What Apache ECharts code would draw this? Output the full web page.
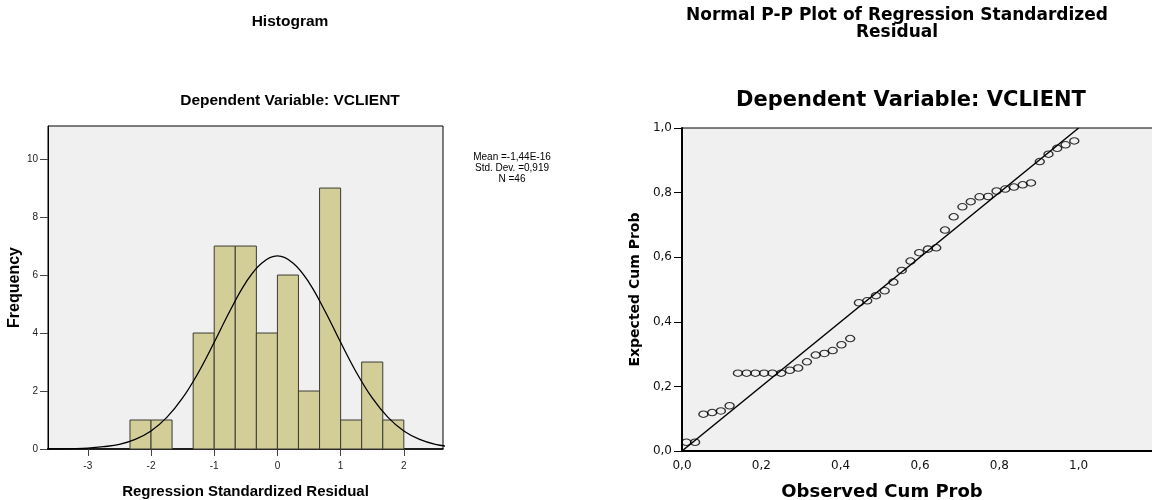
<!DOCTYPE html>
<html>
<head>
<meta charset="utf-8">
<script src="https://cdn.jsdelivr.net/npm/echarts@6/dist/echarts.min.js"></script>
<style>
  html, body { margin: 0; padding: 0; background: #fff; }
  #chart { width: 1152px; height: 500px; }
</style>
</head>
<body>
<div id="chart"></div>
<script>
// histogram of regression standardized residuals
const binLow = [-2.333, -2, -1.667, -1.333, -1, -0.667, -0.333, 0, 0.333, 0.667, 1, 1.333, 1.667]
const binHigh = [-2, -1.667, -1.333, -1, -0.667, -0.333, 0, 0.333, 0.667, 1, 1.333, 1.667, 2]
const binCount = [1, 1, 0, 4, 7, 7, 4, 6, 2, 9, 1, 3, 1]

// normal curve, heights
const curveX = [-3.75, -3.5, -3.25, -3, -2.75, -2.5, -2.25, -2, -1.75, -1.5, -1.25, -1, -0.75, -0.5, -0.25,
  0, 0.25, 0.5, 0.75, 1, 1.25, 1.5, 1.75, 2, 2.25, 2.5, 2.75]
const curveY = [0.00, 0.00, 0.01, 0.03, 0.08, 0.16, 0.33, 0.62, 1.09, 1.76, 2.64, 3.68, 4.77, 5.74, 6.41,
  6.66, 6.41, 5.74, 4.77, 3.68, 2.64, 1.76, 1.09, 0.62, 0.33, 0.16, 0.08]

const histXTicks = [-3, -2, -1, 0, 1, 2]
const histYTicks = [0, 2, 4, 6, 8, 10]
const statLines = ['Mean =-1,44E-16', 'Std. Dev. =0,919', 'N =46']

// normal P-P plot
const ppObserved = [0.011, 0.033, 0.054, 0.076, 0.098, 0.120, 0.141, 0.163, 0.185, 0.207,
  0.228, 0.250, 0.272, 0.293, 0.315, 0.337, 0.359, 0.380, 0.402, 0.424,
  0.446, 0.467, 0.489, 0.511, 0.533, 0.554, 0.576, 0.598, 0.620, 0.641,
  0.663, 0.685, 0.707, 0.728, 0.750, 0.772, 0.793, 0.815, 0.837, 0.859,
  0.880, 0.902, 0.924, 0.946, 0.967, 0.989]
const ppExpected = [0.027, 0.027, 0.114, 0.119, 0.124, 0.140, 0.241, 0.241, 0.241, 0.241,
  0.241, 0.241, 0.250, 0.257, 0.276, 0.297, 0.302, 0.311, 0.329, 0.348,
  0.459, 0.465, 0.481, 0.496, 0.523, 0.559, 0.588, 0.614, 0.625, 0.629,
  0.684, 0.725, 0.756, 0.772, 0.787, 0.788, 0.805, 0.811, 0.817, 0.824,
  0.830, 0.896, 0.919, 0.937, 0.948, 0.960]
const ppTicks = [0, 0.2, 0.4, 0.6, 0.8, 1.0]
const diagonal = [[0, 0], [1, 1]]

const leftFont = 'Liberation Sans, Arial, sans-serif'
const rightFont = 'DejaVu Sans, sans-serif'
const commaFmt = v => v.toFixed(1).replace('.', ',')

const chart = echarts.init(document.getElementById('chart'))

const option = {
  animation: false,
  title: [
    {
      text: 'Histogram', left: 290, top: 14, textAlign: 'center', padding: 0,
      textStyle: { fontFamily: leftFont, fontSize: 15.5, fontWeight: 'bold', color: '#000' }
    },
    {
      text: 'Dependent Variable: VCLIENT', left: 290, top: 93, textAlign: 'center', padding: 0,
      textStyle: { fontFamily: leftFont, fontSize: 15.5, fontWeight: 'bold', color: '#000' }
    },
    {
      text: statLines.join('\n'), left: 512, top: 152, textAlign: 'center', padding: 0,
      textStyle: { fontFamily: leftFont, fontSize: 10, lineHeight: 11, fontWeight: 'normal', color: '#000' }
    },
    {
      text: 'Normal P-P Plot of Regression Standardized\nResidual', left: 897, top: 7, textAlign: 'center', padding: 0,
      textStyle: { fontFamily: rightFont, fontSize: 17, lineHeight: 17, fontWeight: 'bold', color: '#000' }
    },
    {
      text: 'Dependent Variable: VCLIENT', left: 911, top: 90, textAlign: 'center', padding: 0,
      textStyle: { fontFamily: rightFont, fontSize: 21, fontWeight: 'bold', color: '#000' }
    }
  ],
  grid: [
    {
      left: 48, top: 126, width: 395, height: 323, outerBoundsMode: 'none',
      show: true, backgroundColor: '#f0f0f0', borderColor: '#000', borderWidth: 1
    },
    {
      left: 682, top: 128, width: 472, height: 323, outerBoundsMode: 'none',
      show: true, backgroundColor: '#f0f0f0', borderColor: '#000', borderWidth: 1
    }
  ],
  xAxis: [
    {
      gridIndex: 0, type: 'value', min: -3.63, max: 2.62,
      axisLine: { onZero: false, lineStyle: { color: '#000', width: 1.5 } },
      axisTick: { length: 7, customValues: histXTicks, lineStyle: { color: '#444' } },
      axisLabel: { customValues: histXTicks, fontFamily: leftFont, fontSize: 10, color: '#222', margin: 12 },
      splitLine: { show: false },
      name: 'Regression Standardized Residual', nameLocation: 'middle', nameGap: 35,
      nameTextStyle: { fontFamily: leftFont, fontSize: 15, fontWeight: 'bold', color: '#000' }
    },
    {
      gridIndex: 1, type: 'value', min: 0, max: 1.19,
      axisLine: { onZero: false, lineStyle: { color: '#000', width: 2 } },
      axisTick: { show: false },
      axisLabel: { customValues: ppTicks, formatter: commaFmt, fontFamily: rightFont, fontSize: 12, color: '#111', margin: 9 },
      splitLine: { show: false },
      name: 'Observed Cum Prob', nameLocation: 'middle', nameGap: 32,
      nameTextStyle: { fontFamily: rightFont, fontSize: 18, fontWeight: 'bold', color: '#000', padding: [0, 72, 0, 0] }
    }
  ],
  yAxis: [
    {
      gridIndex: 0, type: 'value', min: 0, max: 11.14,
      axisLine: { show: true, onZero: false, lineStyle: { color: '#000', width: 1 } },
      axisTick: { show: true, length: 8, customValues: histYTicks, lineStyle: { color: '#444' } },
      axisLabel: { customValues: histYTicks, fontFamily: leftFont, fontSize: 10, color: '#222', margin: 10 },
      splitLine: { show: false },
      name: 'Frequency', nameLocation: 'middle', nameGap: 17, nameRotate: 90,
      nameTextStyle: { fontFamily: leftFont, fontSize: 16, fontWeight: 'bold', color: '#000' }
    },
    {
      gridIndex: 1, type: 'value', min: 0, max: 1,
      axisLine: { show: true, onZero: false, lineStyle: { color: '#000', width: 2 } },
      axisTick: { show: true, length: 8, customValues: ppTicks, lineStyle: { color: '#000' } },
      axisLabel: { customValues: ppTicks, formatter: commaFmt, fontFamily: rightFont, fontSize: 12, color: '#111', margin: 10 },
      splitLine: { show: false },
      name: 'Expected Cum Prob', nameLocation: 'middle', nameGap: 40, nameRotate: 90,
      nameTextStyle: { fontFamily: rightFont, fontSize: 14, fontWeight: 'bold', color: '#000' }
    }
  ],
  series: [
    {
      type: 'custom',
      xAxisIndex: 0, yAxisIndex: 0,
      z: 2,
      data: binLow.map((v, i) => [v, binHigh[i], binCount[i]]),
      encode: { x: [0, 1], y: 2 },
      renderItem: function (params, api) {
        if (api.value(2) === 0) return null
        const p0 = api.coord([api.value(0), api.value(2)])
        const p1 = api.coord([api.value(1), 0])
        return {
          type: 'rect',
          shape: { x: p0[0], y: p0[1], width: p1[0] - p0[0], height: p1[1] - p0[1] },
          style: { fill: '#d3ce98', stroke: '#3b3b33', lineWidth: 1 }
        }
      }
    },
    {
      type: 'line',
      xAxisIndex: 0, yAxisIndex: 0,
      z: 3,
      data: curveX.map((x, i) => [x, curveY[i]]),
      smooth: 0.4,
      symbol: 'none',
      lineStyle: { color: '#000', width: 1.3 }
    },
    {
      type: 'line',
      xAxisIndex: 1, yAxisIndex: 1,
      z: 2,
      data: diagonal,
      symbol: 'none',
      lineStyle: { color: '#000', width: 1.5 }
    },
    {
      type: 'scatter',
      xAxisIndex: 1, yAxisIndex: 1,
      z: 3,
      data: ppObserved.map((x, i) => [x, ppExpected[i]]),
      symbol: 'circle',
      symbolSize: [9, 6.5],
      itemStyle: { color: 'rgba(0,0,0,0)', borderColor: '#000', borderWidth: 1.2 }
    }
  ]
}

chart.setOption(option)
</script>
</body>
</html>
